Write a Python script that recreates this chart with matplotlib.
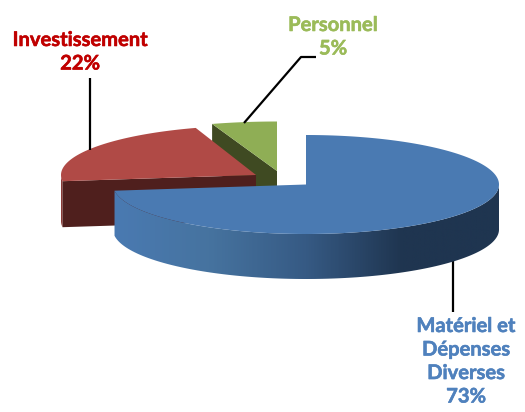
import numpy as np
import matplotlib
matplotlib.use("Agg")
import matplotlib.pyplot as plt
import matplotlib.patheffects as pe
from matplotlib.patches import Polygon
from matplotlib.colors import LinearSegmentedColormap

categories = ["Matériel et\nDépenses\nDiverses", "Investissement", "Personnel"]
shares = [73, 22, 5]

TOP = ["#4a7ab2", "#b04a46", "#8fae55"]
SIDE = ["#1f3550", "#4f1f1d", "#3f4a22"]
TEXT = ["#4f81bd", "#c00000", "#9bbb59"]
CENTERS = [(306, 184.5), (256, 175), (277, 171)]
RX = [193, 195, 210]
RY = 49.5
DEPTH = [45, 46, 45]

plt.rcParams["font.family"] = ["Lato", "DejaVu Sans"]
fig = plt.figure(figsize=(5.25, 4.12), dpi=100)
ax = fig.add_axes([0, 0, 1, 1])
ax.set_xlim(0, 525)
ax.set_ylim(412, 0)
ax.axis("off")

# slices run clockwise from 12 o'clock
ends = 90 - np.cumsum(shares) * 3.6
starts = np.r_[90, ends[:-1]]


def arc(i, a0, a1, n=200):
    t = np.radians(np.linspace(a0, a1, n))
    cx, cy = CENTERS[i]
    return np.c_[cx + RX[i] * np.cos(t), cy - RY * np.sin(t)]


def top_face(i):
    return np.vstack([[CENTERS[i]], arc(i, starts[i], ends[i])])


def wall(i, a0, a1):
    e = arc(i, a0, a1)
    return np.vstack([e, e[::-1] + [0, DEPTH[i]]])


def cut_face(i, angle):
    e = arc(i, angle, angle, 1)[0]
    c = np.array(CENTERS[i], float)
    return np.array([c, e, e + [0, DEPTH[i]], c + [0, DEPTH[i]]])


# Personnel (back), then Investissement, then the main slice
ax.add_patch(Polygon(cut_face(2, starts[2]), fc=SIDE[2], ec="none", zorder=1))
ax.add_patch(Polygon(top_face(2), fc=TOP[2], ec="none", zorder=2))

ax.add_patch(Polygon(wall(1, -180, starts[1]), fc="#8a3a37", ec="none", zorder=3))
ax.add_patch(Polygon(cut_face(1, starts[1]), fc=SIDE[1], ec="none", zorder=4))
ax.add_patch(Polygon(top_face(1), fc=TOP[1], ec="none", zorder=5))

cmap = LinearSegmentedColormap.from_list(
    "side", [(0, "#4a7ab2"), (0.25, "#46739f"), (0.5, "#365a84"),
             (0.75, "#1f3550"), (1, "#1f3550")])
bw = Polygon(wall(0, ends[0], 0), fc="none", ec="none", zorder=6)
ax.add_patch(bw)
x0, x1 = CENTERS[0][0] - RX[0], CENTERS[0][0] + RX[0]
im = ax.imshow(np.linspace(0, 1, 400)[None, :], cmap=cmap, aspect="auto",
               extent=(x0, x1, 290, 170), zorder=6)
im.set_clip_path(bw)
ax.set_xlim(0, 525)
ax.set_ylim(412, 0)
ax.add_patch(Polygon(top_face(0), fc=TOP[0], ec="none", zorder=7))

# leader lines
leaders = [[(453, 260), (453, 312)], [(90, 150), (90, 78)],
           [(244, 123), (301, 57), (316, 57)]]
for pts, z in zip(leaders, (5, 6, 3)):
    ax.plot(*zip(*pts), color="black", lw=1.6, solid_capstyle="butt", zorder=z)

# labels
anchors = [(466, 316), (80, 30), (333, 15)]
for name, share, col, (x, y) in zip(categories, shares, TEXT, anchors):
    t = ax.text(x, y, f"{name}\n{share}%", color=col, fontsize=14.5, fontweight="bold",
                ha="center", va="top", linespacing=1.22, zorder=8)
    t.set_path_effects([pe.withStroke(linewidth=0.4, foreground=col)])

fig.savefig("out.png", dpi=100)
